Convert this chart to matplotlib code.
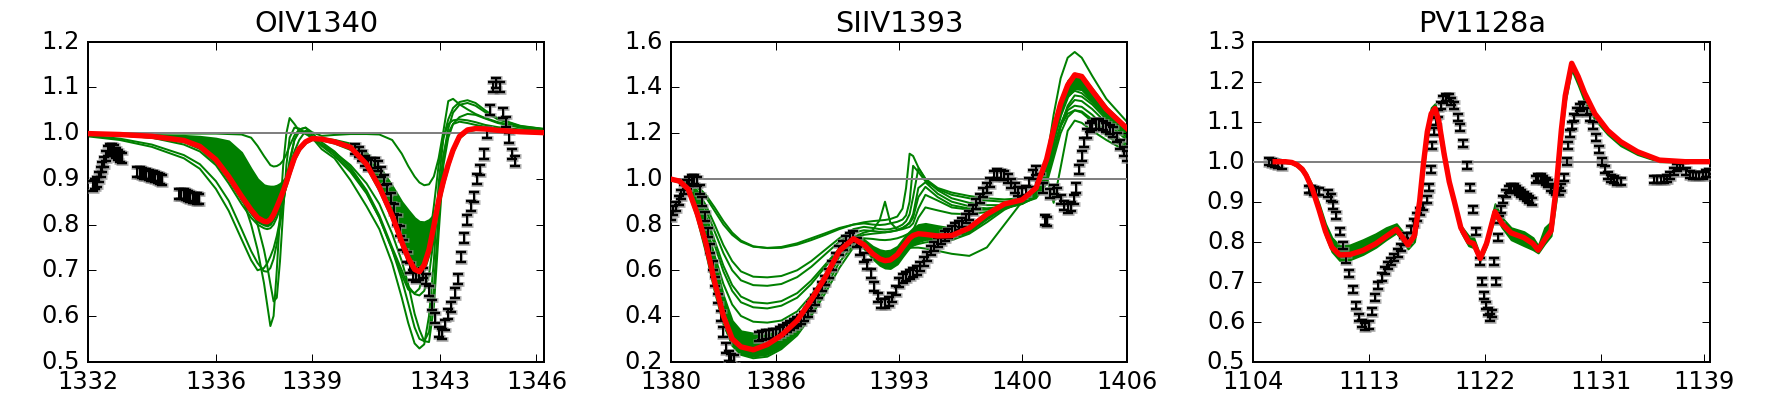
import matplotlib
matplotlib.use("Agg")
import matplotlib.pyplot as plt
from matplotlib.ticker import FormatStrFormatter

plt.style.use("classic")
plt.rcParams["font.family"] = ["DejaVu Sans"]

# ---------------- Panel 1 : OIV1340 ----------------
TITLE1 = "OIV1340"
X1 = [1332.0, 1333.0, 1334.0, 1335.0, 1335.5, 1336.0, 1336.4, 1336.8, 1337.1, 1337.3,
      1337.5, 1337.6, 1337.7, 1337.8, 1337.9, 1338.0, 1338.1, 1338.2, 1338.3, 1338.45,
      1338.6, 1338.8, 1339.0, 1339.3, 1339.7, 1340.2, 1340.7, 1341.1, 1341.5, 1341.8,
      1342.0, 1342.2, 1342.35, 1342.5, 1342.65, 1342.8, 1342.95, 1343.1, 1343.25, 1343.4,
      1343.6, 1343.85, 1344.1, 1344.4, 1344.8, 1345.5, 1346.25]
RED1 = [0.999, 0.997, 0.993, 0.984, 0.971, 0.942, 0.905, 0.862, 0.832, 0.815,
        0.807, 0.806, 0.811, 0.822, 0.838, 0.855, 0.873, 0.893, 0.915, 0.946,
        0.966, 0.981, 0.988, 0.987, 0.981, 0.969, 0.932, 0.882, 0.820, 0.762,
        0.727, 0.702, 0.697, 0.712, 0.745, 0.797, 0.852, 0.895, 0.932, 0.963,
        0.993, 1.007, 1.010, 1.009, 1.006, 1.003, 1.001]
BAND1_LO = [0.999, 0.996, 0.991, 0.981, 0.966, 0.935, 0.897, 0.853, 0.823, 0.806,
            0.799, 0.797, 0.801, 0.812, 0.828, 0.846, 0.866, 0.887, 0.910, 0.942,
            0.963, 0.979, 0.986, 0.985, 0.978, 0.964, 0.925, 0.873, 0.810, 0.752,
            0.717, 0.692, 0.687, 0.701, 0.735, 0.788, 0.845, 0.889, 0.928, 0.960,
            0.990, 1.005, 1.008, 1.008, 1.005, 1.002, 1.000]
BAND1_HI = [0.999, 0.998, 0.997, 0.995, 0.993, 0.989, 0.983, 0.958, 0.922, 0.900,
            0.887, 0.885, 0.884, 0.884, 0.886, 0.890, 0.897, 0.905, 0.922, 0.950,
            0.968, 0.982, 0.990, 0.990, 0.986, 0.978, 0.957, 0.928, 0.885, 0.850,
            0.832, 0.815, 0.807, 0.806, 0.811, 0.822, 0.852, 0.895, 0.932, 0.963,
            0.993, 1.007, 1.010, 1.009, 1.006, 1.003, 1.001]
G1_A = [1.000, 1.000, 1.000, 0.999, 0.999, 0.999, 0.998, 0.997, 0.990, 0.972,
        0.950, 0.940, 0.930, 0.927, 0.928, 0.932, 0.940, 0.954, 0.972, 0.995,
        1.008, 1.012, 1.002, 0.994, 0.996, 0.998, 0.998, 0.997, 0.985, 0.955,
        0.928, 0.905, 0.892, 0.886, 0.888, 0.905, 0.945, 1.005, 1.070, 1.075,
        1.063, 1.052, 1.042, 1.033, 1.024, 1.014, 1.008]
G1_B = [0.993, 0.985, 0.970, 0.945, 0.922, 0.878, 0.830, 0.768, 0.722, 0.700,
        0.705, 0.715, 0.730, 0.748, 0.775, 0.810, 0.850, 0.890, 0.935, 0.985,
        1.003, 1.004, 0.990, 0.965, 0.945, 0.897, 0.840, 0.790, 0.715, 0.640,
        0.585, 0.540, 0.529, 0.538, 0.600, 0.720, 0.890, 0.990, 1.030, 1.055,
        1.068, 1.072, 1.066, 1.050, 1.032, 1.016, 1.009]
G1_C = [0.995, 0.988, 0.975, 0.952, 0.932, 0.895, 0.852, 0.790, 0.742, 0.716,
        0.698, 0.697, 0.705, 0.725, 0.758, 0.800, 0.845, 0.892, 0.940, 0.985,
        1.008, 1.012, 0.995, 0.972, 0.950, 0.915, 0.868, 0.815, 0.745, 0.680,
        0.628, 0.575, 0.550, 0.545, 0.565, 0.660, 0.820, 0.950, 1.010, 1.045,
        1.062, 1.066, 1.060, 1.046, 1.030, 1.015, 1.009]
G1_D = [0.999, 0.997, 0.993, 0.985, 0.975, 0.955, 0.925, 0.865, 0.800, 0.745,
        0.672, 0.625, 0.578, 0.600, 0.700, 0.820, 0.930, 1.000, 1.033, 1.020,
        1.005, 0.998, 0.990, 0.975, 0.958, 0.930, 0.890, 0.845, 0.780, 0.720,
        0.670, 0.605, 0.570, 0.545, 0.543, 0.620, 0.780, 0.930, 0.990, 1.020,
        1.035, 1.042, 1.040, 1.032, 1.022, 1.012, 1.007]
G1_E = [0.999, 0.998, 0.995, 0.988, 0.980, 0.965, 0.940, 0.895, 0.845, 0.800,
        0.745, 0.710, 0.670, 0.632, 0.640, 0.720, 0.830, 0.930, 0.990, 1.012,
        1.010, 1.000, 0.990, 0.975, 0.955, 0.920, 0.870, 0.815, 0.745, 0.690,
        0.658, 0.650, 0.660, 0.700, 0.760, 0.840, 0.930, 0.990, 1.020, 1.028,
        1.030, 1.028, 1.024, 1.018, 1.013, 1.008, 1.005]
G1_F = [0.998, 0.995, 0.990, 0.975, 0.960, 0.930, 0.890, 0.845, 0.815, 0.800,
        0.792, 0.790, 0.792, 0.800, 0.815, 0.835, 0.860, 0.890, 0.925, 0.960,
        0.985, 1.005, 1.000, 0.980, 0.960, 0.925, 0.875, 0.820, 0.750, 0.700,
        0.665, 0.648, 0.645, 0.655, 0.690, 0.770, 0.870, 0.950, 1.000, 1.020,
        1.025, 1.022, 1.018, 1.014, 1.010, 1.006, 1.004]
OBS1_X = [1332.15, 1332.22, 1332.28, 1332.34, 1332.40, 1332.46, 1332.52, 1332.58,
          1332.64, 1332.70, 1332.76, 1332.82, 1332.88, 1332.94, 1333.00, 1333.06,
          1333.55, 1333.62, 1333.69, 1333.76, 1333.83, 1333.90, 1333.97, 1334.04,
          1334.11, 1334.18, 1334.25, 1334.32,
          1334.85, 1334.92, 1334.99, 1335.06, 1335.13, 1335.20, 1335.27, 1335.34,
          1335.41, 1335.48,
          1340.35, 1340.45, 1340.55, 1340.65, 1340.75, 1340.85, 1340.95, 1341.05,
          1341.15, 1341.25, 1341.35, 1341.45, 1341.55, 1341.65, 1341.75, 1341.85,
          1341.95, 1342.05, 1342.15, 1342.25, 1342.35, 1342.45, 1342.55, 1342.65,
          1342.75, 1342.85, 1342.95, 1343.05, 1343.15, 1343.25, 1343.35, 1343.45,
          1343.55, 1343.65, 1343.75, 1343.85, 1343.95, 1344.05, 1344.15, 1344.25,
          1344.35, 1344.45, 1344.55, 1344.65, 1344.75, 1344.85, 1344.95, 1345.05,
          1345.15, 1345.25, 1345.32]
OBS1_Y = [0.884, 0.888, 0.893, 0.905, 0.915, 0.925, 0.937, 0.950,
          0.960, 0.966, 0.966, 0.962, 0.957, 0.952, 0.948, 0.945,
          0.916, 0.914, 0.913, 0.911, 0.910, 0.909, 0.907, 0.906,
          0.904, 0.902, 0.900, 0.898,
          0.866, 0.867, 0.866, 0.864, 0.862, 0.861, 0.859, 0.858,
          0.857, 0.856,
          0.965, 0.958, 0.950, 0.940, 0.930, 0.935, 0.935, 0.928,
          0.915, 0.898, 0.878, 0.858, 0.835, 0.810, 0.785, 0.755,
          0.730, 0.705, 0.690, 0.685, 0.690, 0.695, 0.680, 0.655,
          0.625, 0.595, 0.565, 0.560, 0.580, 0.605, 0.620, 0.650,
          0.680, 0.730, 0.770, 0.810, 0.840, 0.860, 0.900, 0.920,
          0.955, 1.000, 1.050, 1.100, 1.110, 1.100, 1.045, 1.025,
          0.990, 0.955, 0.940]
ERR1 = 0.011
XLIM1 = (1332.0, 1346.25)
YLIM1 = (0.5, 1.2)
XT1 = [1332, 1336, 1339, 1343, 1346]
YT1 = [0.5, 0.6, 0.7, 0.8, 0.9, 1.0, 1.1, 1.2]

# ---------------- Panel 2 : SIIV1393 ----------------
TITLE2 = "SIIV1393"
X2 = [1380.0, 1380.5, 1381.0, 1381.5, 1382.0, 1382.5, 1383.0, 1383.5, 1384.0, 1384.7,
      1385.5, 1386.3, 1387.2, 1388.0, 1388.8, 1389.6, 1390.4, 1391.0, 1391.5, 1391.9,
      1392.2, 1392.5, 1392.9, 1393.2, 1393.4, 1393.6, 1393.8, 1394.1, 1394.5, 1395.2,
      1396.0, 1397.0, 1398.0, 1399.0, 1400.0, 1400.8, 1401.4, 1401.8, 1402.2, 1402.6,
      1403.0, 1403.4, 1404.0, 1404.8, 1405.97]
RED2 = [0.999, 0.990, 0.955, 0.850, 0.720, 0.550, 0.400, 0.300, 0.265, 0.252,
        0.275, 0.315, 0.380, 0.470, 0.570, 0.685, 0.738, 0.712, 0.672, 0.650,
        0.642, 0.645, 0.668, 0.700, 0.720, 0.740, 0.752, 0.760, 0.757, 0.750,
        0.752, 0.785, 0.845, 0.890, 0.908, 0.960, 1.085, 1.215, 1.330, 1.410,
        1.455, 1.448, 1.385, 1.305, 1.221]
BAND2_LO = [0.996, 0.985, 0.945, 0.840, 0.700, 0.530, 0.380, 0.280, 0.240, 0.228,
            0.238, 0.270, 0.330, 0.430, 0.545, 0.665, 0.725, 0.695, 0.650, 0.622,
            0.610, 0.608, 0.628, 0.660, 0.680, 0.700, 0.712, 0.725, 0.735, 0.735,
            0.740, 0.770, 0.825, 0.875, 0.895, 0.945, 1.050, 1.170, 1.280, 1.360,
            1.395, 1.390, 1.340, 1.270, 1.190]
BAND2_HI = [1.000, 0.997, 0.980, 0.915, 0.800, 0.640, 0.490, 0.380, 0.335, 0.325,
            0.328, 0.345, 0.395, 0.485, 0.585, 0.700, 0.752, 0.735, 0.705, 0.690,
            0.685, 0.688, 0.705, 0.735, 0.755, 0.770, 0.785, 0.800, 0.805, 0.795,
            0.785, 0.800, 0.850, 0.895, 0.915, 0.975, 1.100, 1.230, 1.350, 1.430,
            1.462, 1.455, 1.395, 1.315, 1.228]
G2_A = [1.000, 0.998, 0.990, 0.970, 0.930, 0.875, 0.815, 0.765, 0.730, 0.705,
        0.697, 0.698, 0.712, 0.732, 0.755, 0.780, 0.800, 0.810, 0.815, 0.818,
        0.820, 0.824, 0.835, 0.870, 0.960, 1.110, 1.100, 1.050, 1.000, 0.960,
        0.940, 0.925, 0.915, 0.910, 0.915, 0.950, 1.080, 1.280, 1.440, 1.530,
        1.555, 1.530, 1.450, 1.350, 1.250]
G2_B = [1.000, 0.998, 0.988, 0.965, 0.920, 0.860, 0.800, 0.755, 0.725, 0.703,
        0.698, 0.702, 0.718, 0.740, 0.762, 0.785, 0.800, 0.805, 0.800, 0.798,
        0.800, 0.805, 0.812, 0.822, 0.840, 0.900, 1.057, 1.030, 0.990, 0.955,
        0.930, 0.915, 0.905, 0.900, 0.905, 0.940, 1.050, 1.200, 1.320, 1.395,
        1.420, 1.410, 1.360, 1.290, 1.200]
G2_C = [1.000, 0.997, 0.985, 0.950, 0.885, 0.800, 0.710, 0.640, 0.595, 0.572,
        0.569, 0.575, 0.600, 0.640, 0.690, 0.740, 0.780, 0.790, 0.785, 0.780,
        0.778, 0.780, 0.788, 0.800, 0.815, 0.845, 0.920, 1.046, 1.000, 0.950,
        0.915, 0.895, 0.885, 0.885, 0.895, 0.930, 1.030, 1.170, 1.290, 1.360,
        1.385, 1.375, 1.335, 1.270, 1.190]
G2_D = [1.000, 0.996, 0.982, 0.940, 0.865, 0.770, 0.675, 0.600, 0.556, 0.535,
        0.532, 0.540, 0.570, 0.615, 0.670, 0.725, 0.765, 0.775, 0.772, 0.768,
        0.766, 0.768, 0.775, 0.785, 0.795, 0.810, 0.845, 0.960, 0.985, 0.935,
        0.900, 0.880, 0.870, 0.875, 0.890, 0.920, 1.000, 1.130, 1.240, 1.310,
        1.345, 1.340, 1.305, 1.245, 1.170]
G2_E = [1.000, 0.995, 0.978, 0.930, 0.840, 0.730, 0.620, 0.535, 0.485, 0.460,
        0.455, 0.465, 0.500, 0.555, 0.625, 0.695, 0.745, 0.765, 0.775, 0.820,
        0.900, 0.810, 0.778, 0.785, 0.795, 0.805, 0.830, 0.920, 0.965, 0.920,
        0.885, 0.870, 0.870, 0.880, 0.895, 0.915, 0.980, 1.090, 1.200, 1.270,
        1.300, 1.295, 1.260, 1.205, 1.140]
G2_F = [1.000, 0.994, 0.975, 0.925, 0.830, 0.710, 0.595, 0.510, 0.460, 0.438,
        0.433, 0.445, 0.480, 0.540, 0.615, 0.690, 0.740, 0.755, 0.760, 0.763,
        0.766, 0.770, 0.775, 0.780, 0.785, 0.790, 0.805, 0.870, 0.930, 0.905,
        0.875, 0.865, 0.865, 0.875, 0.895, 0.930, 1.010, 1.120, 1.230, 1.300,
        1.320, 1.315, 1.280, 1.220, 1.150]
G2_G = [1.000, 0.993, 0.970, 0.910, 0.800, 0.665, 0.540, 0.450, 0.400, 0.375,
        0.371, 0.380, 0.420, 0.490, 0.580, 0.665, 0.725, 0.740, 0.737, 0.733,
        0.732, 0.734, 0.740, 0.748, 0.755, 0.762, 0.775, 0.830, 0.875, 0.862,
        0.848, 0.845, 0.855, 0.870, 0.890, 0.925, 1.000, 1.110, 1.230, 1.320,
        1.365, 1.360, 1.325, 1.260, 1.180]
G2_H = [0.999, 0.990, 0.950, 0.840, 0.690, 0.520, 0.370, 0.270, 0.230, 0.215,
        0.222, 0.255, 0.315, 0.400, 0.500, 0.610, 0.700, 0.715, 0.695, 0.682,
        0.680, 0.682, 0.688, 0.693, 0.696, 0.698, 0.699, 0.699, 0.695, 0.685,
        0.672, 0.663, 0.700, 0.800, 0.900, 0.970, 1.010, 0.895, 1.050, 1.210,
        1.255, 1.245, 1.210, 1.170, 1.120]
G2_I = [0.999, 0.988, 0.945, 0.830, 0.680, 0.510, 0.365, 0.275, 0.235, 0.222,
        0.230, 0.262, 0.325, 0.415, 0.520, 0.635, 0.710, 0.705, 0.670, 0.652,
        0.648, 0.652, 0.665, 0.680, 0.690, 0.700, 0.708, 0.715, 0.722, 0.728,
        0.732, 0.760, 0.810, 0.865, 0.900, 0.950, 1.030, 1.140, 1.230, 1.285,
        1.300, 1.290, 1.250, 1.190, 1.130]
OBS2_X = [1380.0, 1380.15, 1380.3, 1380.45, 1380.6, 1380.75, 1380.9, 1381.05, 1381.2,
          1381.35, 1381.5, 1381.65, 1381.8, 1381.95, 1382.1, 1382.25, 1382.4, 1382.55,
          1382.7, 1382.85, 1383.0, 1383.15, 1383.3, 1383.45, 1383.6,
          1385.0, 1385.2, 1385.4, 1385.6, 1385.8, 1386.0, 1386.2, 1386.4, 1386.6, 1386.8,
          1387.0, 1387.2, 1387.4, 1387.6, 1387.8, 1388.0, 1388.2, 1388.4, 1388.6, 1388.8,
          1389.0, 1389.2, 1389.4, 1389.6, 1389.8, 1390.0, 1390.2, 1390.4, 1390.6, 1390.8,
          1391.0, 1391.2, 1391.4, 1391.6, 1391.8, 1392.0, 1392.2, 1392.4, 1392.6, 1392.8,
          1393.0, 1393.2, 1393.4, 1393.6, 1393.8, 1394.0, 1394.2, 1394.4, 1394.6, 1394.8,
          1395.0, 1395.2, 1395.4, 1395.6, 1395.8, 1396.0, 1396.2, 1396.4, 1396.6, 1396.8,
          1397.0, 1397.2, 1397.4, 1397.6, 1397.8, 1398.0, 1398.2, 1398.4, 1398.6, 1398.8,
          1399.0, 1399.2, 1399.4, 1399.6, 1399.8, 1400.0, 1400.2, 1400.4, 1400.6, 1400.8,
          1401.0, 1401.2, 1401.3, 1401.45, 1401.6, 1401.8, 1402.0, 1402.2, 1402.4, 1402.6,
          1402.8, 1402.95, 1403.1, 1403.25, 1403.4, 1403.55, 1403.7, 1403.85, 1404.0,
          1404.2, 1404.4, 1404.6, 1404.8, 1405.0, 1405.2, 1405.4, 1405.6, 1405.8, 1405.95]
OBS2_Y = [0.840, 0.860, 0.880, 0.905, 0.930, 0.955, 0.975, 0.990, 0.995,
          0.998, 0.990, 0.955, 0.900, 0.835, 0.765, 0.695, 0.620, 0.550,
          0.475, 0.400, 0.330, 0.260, 0.225, 0.215, 0.210,
          0.310, 0.315, 0.318, 0.320, 0.322, 0.325, 0.333, 0.340, 0.350, 0.360,
          0.368, 0.375, 0.385, 0.397, 0.415, 0.440, 0.470, 0.500, 0.528, 0.556,
          0.586, 0.620, 0.655, 0.685, 0.710, 0.730, 0.745, 0.752, 0.720, 0.685,
          0.655, 0.625, 0.585, 0.530, 0.480, 0.455, 0.455, 0.465, 0.482, 0.510,
          0.545, 0.565, 0.572, 0.580, 0.590, 0.600, 0.615, 0.640, 0.660, 0.685,
          0.705, 0.720, 0.735, 0.750, 0.762, 0.775, 0.785, 0.795, 0.810, 0.825,
          0.840, 0.865, 0.890, 0.915, 0.940, 0.960, 0.985, 1.015, 1.025, 1.020,
          1.015, 1.000, 0.980, 0.960, 0.945, 0.940, 0.950, 0.985, 1.020, 1.035,
          1.000, 0.960, 0.820, 0.815, 0.935, 0.955, 0.940, 0.910, 0.885, 0.870,
          0.880, 0.910, 0.960, 1.040, 1.100, 1.160, 1.200, 1.225, 1.235,
          1.240, 1.240, 1.235, 1.225, 1.215, 1.205, 1.180, 1.150, 1.120, 1.100]
ERR2 = 0.02
XLIM2 = (1380.0, 1405.97)
YLIM2 = (0.2, 1.6)
XT2 = [1380, 1386, 1393, 1400, 1406]
YT2 = [0.2, 0.4, 0.6, 0.8, 1.0, 1.2, 1.4, 1.6]

# ---------------- Panel 3 : PV1128a ----------------
TITLE3 = "PV1128a"
X3 = [1105.7, 1106.5, 1107.0, 1107.4, 1107.8, 1108.1, 1108.6, 1109.1, 1109.6, 1110.1,
      1110.7, 1111.5, 1112.5, 1113.5, 1114.3, 1115.1, 1115.6, 1116.0, 1116.5, 1116.9,
      1117.2, 1117.5, 1117.8, 1118.1, 1118.4, 1118.8, 1119.2, 1119.6, 1120.1, 1120.7,
      1121.1, 1121.6, 1122.1, 1122.75, 1123.3, 1124.0, 1125.0, 1125.7, 1126.1, 1126.6,
      1127.1, 1127.5, 1127.9, 1128.2, 1128.7, 1129.2, 1129.7, 1130.5, 1131.5, 1132.5,
      1133.8, 1135.5, 1137.5, 1139.43]
RED3 = [1.000, 1.000, 0.998, 0.992, 0.981, 0.966, 0.930, 0.880, 0.826, 0.786,
        0.767, 0.768, 0.778, 0.795, 0.813, 0.831, 0.810, 0.792, 0.815, 0.900,
        0.995, 1.075, 1.120, 1.133, 1.100, 1.020, 0.950, 0.900, 0.835, 0.800,
        0.795, 0.758, 0.796, 0.875, 0.845, 0.822, 0.810, 0.795, 0.779, 0.805,
        0.827, 0.935, 1.080, 1.165, 1.246, 1.213, 1.172, 1.120, 1.078, 1.050,
        1.025, 1.004, 1.000, 1.000]
BAND3_LO = [0.998, 0.998, 0.995, 0.988, 0.975, 0.960, 0.922, 0.870, 0.815, 0.775,
            0.753, 0.755, 0.768, 0.786, 0.805, 0.822, 0.800, 0.782, 0.800, 0.880,
            0.980, 1.060, 1.110, 1.122, 1.088, 1.008, 0.940, 0.890, 0.825, 0.790,
            0.785, 0.752, 0.790, 0.865, 0.835, 0.805, 0.790, 0.780, 0.772, 0.795,
            0.815, 0.905, 1.060, 1.150, 1.230, 1.192, 1.150, 1.105, 1.068, 1.040,
            1.018, 1.000, 0.999, 0.999]
BAND3_HI = [1.001, 1.001, 1.000, 0.996, 0.986, 0.972, 0.940, 0.895, 0.845, 0.810,
            0.790, 0.792, 0.805, 0.820, 0.835, 0.845, 0.825, 0.800, 0.825, 0.910,
            1.010, 1.090, 1.135, 1.145, 1.110, 1.030, 0.955, 0.905, 0.840, 0.815,
            0.810, 0.765, 0.810, 0.895, 0.860, 0.835, 0.825, 0.810, 0.790, 0.835,
            0.850, 0.945, 1.090, 1.170, 1.250, 1.215, 1.172, 1.122, 1.080, 1.052,
            1.027, 1.005, 1.000, 1.000]
OBS3_X = [1105.2, 1105.45, 1105.7, 1105.95, 1106.2,
          1108.3, 1108.5, 1108.7, 1108.9, 1109.1,
          1109.8, 1110.0, 1110.2, 1110.45, 1110.7, 1110.95, 1111.2, 1111.45, 1111.7,
          1111.95, 1112.2, 1112.45, 1112.7, 1112.95, 1113.2, 1113.45, 1113.7, 1113.95,
          1114.2, 1114.45, 1114.7, 1114.95, 1115.2, 1115.45, 1115.7, 1115.95, 1116.2,
          1116.45, 1116.7, 1116.95, 1117.2, 1117.45, 1117.6, 1117.75, 1117.9, 1118.05,
          1118.2, 1118.35, 1118.55, 1118.75, 1118.95, 1119.15, 1119.35, 1119.6, 1119.85,
          1120.05, 1120.3, 1120.55, 1120.8, 1121.05, 1121.3, 1121.55, 1121.75, 1121.9,
          1122.05, 1122.2, 1122.35, 1122.5, 1122.7, 1122.85, 1122.95, 1123.05, 1123.2,
          1123.4, 1123.6, 1123.8, 1124.0, 1124.2, 1124.4, 1124.6, 1124.8, 1125.0,
          1125.2, 1125.4, 1125.6,
          1125.9, 1126.1, 1126.3, 1126.5, 1126.7, 1126.9, 1127.1, 1127.3, 1127.5,
          1127.7, 1127.9, 1128.1, 1128.3, 1128.45, 1128.6, 1128.75, 1128.9, 1129.1,
          1129.35, 1129.6, 1129.85, 1130.1, 1130.35, 1130.6, 1130.85, 1131.05, 1131.25,
          1131.5, 1131.75, 1132.0, 1132.25, 1132.5,
          1135.1, 1135.35, 1135.6, 1135.85, 1136.1, 1136.35, 1136.6, 1136.85, 1137.1,
          1137.35, 1137.6, 1137.85, 1138.1, 1138.35, 1138.6, 1138.85, 1139.1, 1139.35]
OBS3_Y = [1.000, 0.998, 0.996, 0.993, 0.990,
          0.930, 0.930, 0.927, 0.925, 0.925,
          0.920, 0.910, 0.890, 0.865, 0.825, 0.790, 0.755, 0.720, 0.680,
          0.640, 0.610, 0.595, 0.588, 0.592, 0.625, 0.660, 0.690, 0.712,
          0.728, 0.740, 0.750, 0.760, 0.772, 0.785, 0.800, 0.812, 0.830,
          0.848, 0.862, 0.875, 0.888, 0.905, 0.935, 0.980, 1.040, 1.075,
          1.100, 1.120, 1.140, 1.155, 1.160, 1.160, 1.150, 1.140, 1.110,
          1.085, 1.045, 0.990, 0.935, 0.880, 0.825, 0.750, 0.700, 0.665,
          0.640, 0.625, 0.610, 0.620, 0.750, 0.700, 0.810, 0.855, 0.880,
          0.905, 0.920, 0.930, 0.935, 0.935, 0.930, 0.925, 0.920, 0.915,
          0.910, 0.905, 0.900,
          0.955, 0.960, 0.960, 0.955, 0.950, 0.945, 0.935, 0.930, 0.925,
          0.925, 0.935, 0.960, 1.000, 1.040, 1.070, 1.090, 1.110, 1.125,
          1.135, 1.140, 1.125, 1.110, 1.090, 1.060, 1.030, 1.000, 0.980,
          0.965, 0.958, 0.955, 0.950, 0.950,
          0.955, 0.955, 0.955, 0.955, 0.958, 0.965, 0.975, 0.985, 0.990,
          0.990, 0.975, 0.968, 0.965, 0.965, 0.965, 0.965, 0.970, 0.972]
ERR3 = 0.009
XLIM3 = (1104.0, 1139.43)
YLIM3 = (0.5, 1.3)
XT3 = [1104, 1113, 1122, 1131, 1139]
YT3 = [0.5, 0.6, 0.7, 0.8, 0.9, 1.0, 1.1, 1.2, 1.3]

panels = [
    dict(title=TITLE1, x=X1, red=RED1, lo=BAND1_LO, hi=BAND1_HI,
         lines=[G1_A, G1_B, G1_C, G1_D, G1_E, G1_F],
         ox=OBS1_X, oy=OBS1_Y, err=ERR1, xlim=XLIM1, ylim=YLIM1, xt=XT1, yt=YT1,
         left=87.7),
    dict(title=TITLE2, x=X2, red=RED2, lo=BAND2_LO, hi=BAND2_HI,
         lines=[G2_A, G2_B, G2_C, G2_D, G2_E, G2_F, G2_G, G2_H, G2_I],
         ox=OBS2_X, oy=OBS2_Y, err=ERR2, xlim=XLIM2, ylim=YLIM2, xt=XT2, yt=YT2,
         left=670.7),
    dict(title=TITLE3, x=X3, red=RED3, lo=BAND3_LO, hi=BAND3_HI,
         lines=[],
         ox=OBS3_X, oy=OBS3_Y, err=ERR3, xlim=XLIM3, ylim=YLIM3, xt=XT3, yt=YT3,
         left=1253.3),
]

W, H = 1766, 404
fig = plt.figure(figsize=(W / 144.0, H / 144.0), dpi=144, facecolor="white")
for p in panels:
    ax = fig.add_axes([p["left"] / W, (H - 361.7) / H, 456.7 / W, 320.0 / H])
    ax.set_facecolor("white")
    ax.fill_between(p["x"], p["lo"], p["hi"], facecolor="g", edgecolor="g",
                    linewidth=1.0, zorder=2)
    for ln in p["lines"]:
        ax.plot(p["x"], ln, color="g", lw=1.0, zorder=2)
    ax.axhline(1.0, color="0.5", lw=1.0, zorder=3)
    # soft grey halo under the black error bars
    ax.errorbar(p["ox"], p["oy"], yerr=p["err"], fmt="none", ecolor="0.55",
                elinewidth=1.6, capsize=3.0, capthick=2.4, alpha=0.7, zorder=4)
    ax.errorbar(p["ox"], p["oy"], yerr=p["err"], fmt="none", ecolor="k",
                elinewidth=1.0, capsize=2.6, capthick=1.2, zorder=4.5)
    ax.plot(p["x"], p["red"], color="r", lw=2.7, zorder=5)
    ax.set_xlim(*p["xlim"])
    ax.set_ylim(*p["ylim"])
    ax.set_xticks(p["xt"])
    ax.set_yticks(p["yt"])
    ax.xaxis.set_major_formatter(FormatStrFormatter("%d"))
    ax.yaxis.set_major_formatter(FormatStrFormatter("%.1f"))
    ax.set_title(p["title"])

fig.savefig("out.png", dpi=144, facecolor="white")
